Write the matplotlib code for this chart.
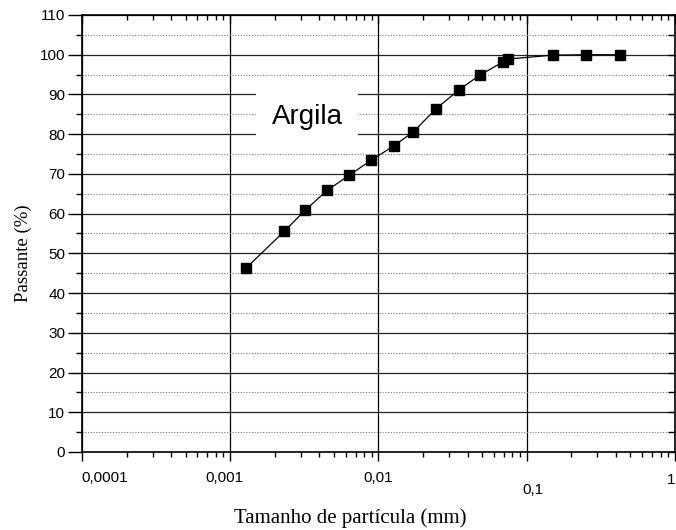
import matplotlib.pyplot as plt
from matplotlib.ticker import LogLocator, NullFormatter, MultipleLocator

# particle size (mm) and percent passing
diametro = [0.00128, 0.00232, 0.00321, 0.00452, 0.00637, 0.00897, 0.01263,
            0.0172, 0.0243, 0.0347, 0.0484, 0.0694, 0.0744, 0.150, 0.250, 0.425]
passante = [46.3, 55.6, 60.9, 65.9, 69.7, 73.5, 77.0,
            80.6, 86.3, 91.1, 94.9, 98.2, 98.9, 99.9, 100.0, 100.0]

xticks = [0.0001, 0.001, 0.01, 0.1, 1]
xticklabels = ["0,0001", "0,001", "0,01", "0,1", "1"]
yticks = [0, 10, 20, 30, 40, 50, 60, 70, 80, 90, 100, 110]

sans = "Liberation Sans"
serif = "Liberation Serif"


def main():
	fig = plt.figure(figsize=(6.76, 5.30), dpi=100)
	ax = fig.add_axes([0.1213, 0.1472, 0.8772, 0.8245])

	ax.set_xscale("log")
	ax.set_xlim(0.0001, 1)
	ax.set_ylim(0, 110)

	# grid: solid at the decades / tens, dotted at the fives
	ax.set_yticks(yticks)
	ax.yaxis.set_minor_locator(MultipleLocator(5))
	ax.grid(which="major", axis="y", color="#222222", lw=0.9, ls="-")
	ax.grid(which="minor", axis="y", color="#777777", lw=0.8, ls=(0, (1, 1.5)))
	ax.grid(which="major", axis="x", color="black", lw=0.9, ls="-")

	ax.plot(diametro, passante, color="black", lw=0.9, marker="s",
	        markersize=7.5, markerfacecolor="black", zorder=5)

	ax.text(0.0033, 84.3, "Argila", fontsize=20, family=sans, ha="center",
	        va="center", zorder=4,
	        bbox=dict(boxstyle="square,pad=0.55", facecolor="white",
	                  edgecolor="none"))

	# ticks
	ax.set_xticks(xticks)
	ax.xaxis.set_minor_locator(LogLocator(base=10, subs=range(2, 10)))
	ax.xaxis.set_minor_formatter(NullFormatter())
	ax.set_xticklabels([])
	ax.tick_params(axis="x", which="major", direction="out", length=6.5, width=1,
	               top=True)
	ax.tick_params(axis="x", which="minor", direction="out", length=3.5, width=1,
	               top=True)
	ax.tick_params(axis="y", which="major", direction="out", length=10, width=1,
	               labelsize=11, pad=2, right=True)
	ax.tick_params(axis="y", which="minor", direction="out", length=4, width=1,
	               right=True)
	for t in ax.yaxis.get_ticklabels():
		t.set_family(sans)
	# inward ticks on top and right
	for tk in ax.xaxis.get_major_ticks() + ax.xaxis.get_minor_ticks():
		tk.tick2line.set_marker(3)
	for tk in ax.yaxis.get_major_ticks() + ax.yaxis.get_minor_ticks():
		tk.tick2line.set_marker(0)
		tk.tick2line.set_markersize(5)

	# x tick labels, placed as in the original export
	offsets = [(16.5, -18.7), (-4, -18.7), (0, -18.7), (4.3, -27.3), (0, -20)]
	aligns = ["center", "center", "center", "center", "right"]
	for xv, lab, (dx, dy), ha in zip(xticks, xticklabels, offsets, aligns):
		ax.annotate(lab, xy=(xv, 0), xycoords=("data", "axes fraction"),
		            xytext=(dx, dy), textcoords="offset points",
		            ha=ha, va="center", fontsize=11, family=sans,
		            annotation_clip=False)

	for s in ax.spines.values():
		s.set_linewidth(1.2)
		s.set_color("black")

	fig.text(0.518, 0.022, "Tamanho de partícula (mm)", family=serif,
	         fontsize=15, ha="center", va="center")
	fig.text(0.034, 0.523, "Passante (%)", family=serif, fontsize=13.5,
	         rotation=90, ha="center", va="center")

	fig.savefig("out.png", dpi=100)


if __name__ == "__main__":
	main()
